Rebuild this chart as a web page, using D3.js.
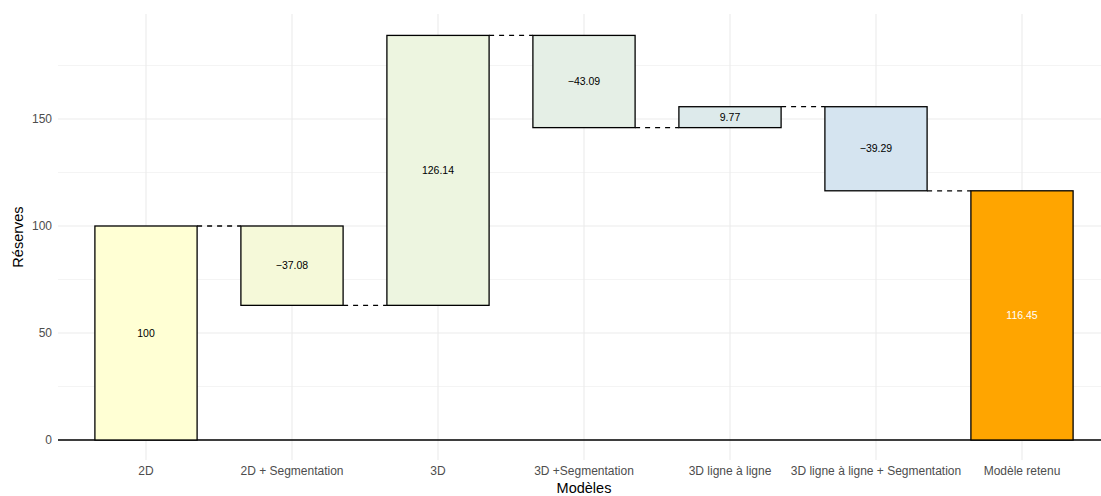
<!DOCTYPE html>
<html><head><meta charset="utf-8">
<script src="https://cdn.jsdelivr.net/npm/d3@7"></script>
<style>body{margin:0;background:#fff}svg{display:block;font-family:"Liberation Sans",Arial,sans-serif}</style>
</head><body>
<script>
const categories = ["2D","2D + Segmentation","3D","3D +Segmentation","3D ligne à ligne","3D ligne à ligne + Segmentation","Modèle retenu"];
const deltas = [100, -37.08, 126.14, -43.09, 9.77, -39.29, 116.45];
const labels = ["100","\u221237.08","126.14","\u221243.09","9.77","\u221239.29","116.45"];
const isTotal = [true,false,false,false,false,false,true];
const fills = ["#FFFFD4","#F5F9D9","#EDF5E0","#E5EFE6","#DDEAEB","#D5E4F0","#FFA500"];
const labelColors = ["#000","#000","#000","#000","#000","#000","#fff"];
const yTicks = [0,50,100,150];
const yMinor = [25,75,125,175];

const W=1101,H=496;
const svg=d3.select("body").append("svg").attr("width",W).attr("height",H);

// compute waterfall
let cum=0; const bars=[];
categories.forEach((c,i)=>{
  let start,end;
  if(isTotal[i]){start=0;end=deltas[i];cum=end;}
  else{start=cum;end=cum+deltas[i];cum=end;}
  bars.push({c,start,end,i});
});

const x=d3.scalePoint().domain(categories).range([146,1022]);
const step=146, bw=step*0.7;
const y=d3.scaleLinear().domain([0,150]).range([440,119]);
const pTop=14,pBottom=460,pLeft=58,pRight=1101;

const g=svg.append("g");
// grid
g.selectAll(".ym").data(yMinor).join("line").attr("x1",pLeft).attr("x2",pRight)
 .attr("y1",d=>y(d)).attr("y2",d=>y(d)).attr("stroke","#EBEBEB").attr("stroke-width",0.55);
g.selectAll(".yM").data(yTicks).join("line").attr("x1",pLeft).attr("x2",pRight)
 .attr("y1",d=>y(d)).attr("y2",d=>y(d)).attr("stroke","#EBEBEB").attr("stroke-width",1.1);
g.selectAll(".xM").data(categories).join("line").attr("x1",d=>x(d)).attr("x2",d=>x(d))
 .attr("y1",pTop).attr("y2",pBottom).attr("stroke","#EBEBEB").attr("stroke-width",1.1);

// zero line
g.append("line").attr("x1",pLeft).attr("x2",pRight).attr("y1",y(0)).attr("y2",y(0))
 .attr("stroke","#000").attr("stroke-width",1.3);

// connectors
for(let i=0;i<bars.length-1;i++){
  const lvl=bars[i].end;
  g.append("line").attr("x1",x(bars[i].c)+bw/2).attr("x2",x(bars[i+1].c)-bw/2)
   .attr("y1",y(lvl)).attr("y2",y(lvl)).attr("stroke","#000").attr("stroke-width",1.3)
   .attr("stroke-dasharray","5,5");
}

// bars
g.selectAll(".bar").data(bars).join("rect")
 .attr("x",d=>x(d.c)-bw/2).attr("width",bw)
 .attr("y",d=>y(Math.max(d.start,d.end))).attr("height",d=>Math.abs(y(d.start)-y(d.end)))
 .attr("fill",d=>fills[d.i]).attr("stroke","#000").attr("stroke-width",1.3);

g.selectAll(".lbl").data(bars).join("text")
 .attr("x",d=>x(d.c)).attr("y",d=>y((d.start+d.end)/2)).attr("dy","0.35em")
 .attr("text-anchor","middle").attr("font-size",10.5).attr("fill",d=>labelColors[d.i])
 .text(d=>labels[d.i]);

// axes
g.selectAll(".yt").data(yTicks).join("text").attr("x",52).attr("y",d=>y(d)).attr("dy","0.35em")
 .attr("text-anchor","end").attr("font-size",12).attr("fill","#4D4D4D").text(d=>d);
g.selectAll(".xt").data(categories).join("text").attr("x",d=>x(d)).attr("y",471)
 .attr("dy","0.35em").attr("text-anchor","middle").attr("font-size",12).attr("fill","#4D4D4D").text(d=>d);

svg.append("text").attr("x",584).attr("y",488).attr("dy","0.35em").attr("text-anchor","middle")
 .attr("font-size",14.5).attr("fill","#000").text("Modèles");
svg.append("text").attr("transform","translate(18,237) rotate(-90)").attr("dy","0.35em")
 .attr("text-anchor","middle").attr("font-size",14.5).attr("fill","#000").text("Réserves");
</script>
</body></html>
